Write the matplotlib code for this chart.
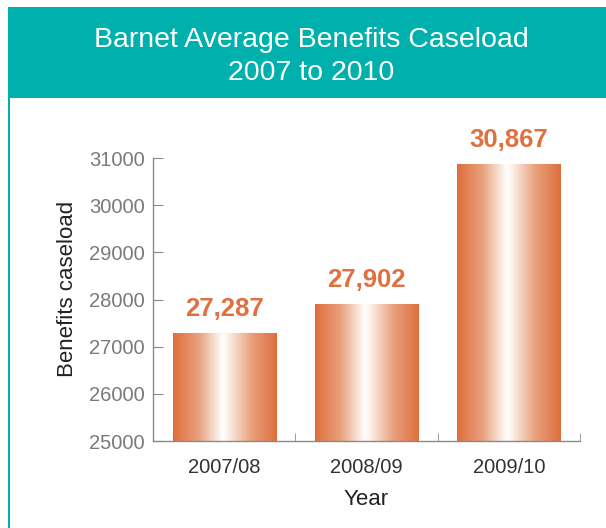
import numpy as np
import matplotlib
matplotlib.use("Agg")
import matplotlib.pyplot as plt
from matplotlib.patches import Rectangle
from matplotlib.colors import LinearSegmentedColormap

categories = ["2007/08", "2008/09", "2009/10"]
values = [27287, 27902, 30867]
value_labels = ["27,287", "27,902", "30,867"]
yticks = [25000, 26000, 27000, 28000, 29000, 30000, 31000]
title_lines = ["Barnet Average Benefits Caseload", "2007 to 2010"]

plt.rcParams['font.family'] = ['Liberation Sans', 'DejaVu Sans']

TEAL = "#00B0AC"
ORANGE = "#E0703F"

fig = plt.figure(figsize=(6.06, 5.28), dpi=100)
W, H = 606, 528

# header band
fig.add_artist(Rectangle((8 / W, 1 - 98 / H), 1 - 8 / W, 91 / H,
                         transform=fig.transFigure, facecolor=TEAL, edgecolor='none'))
# left border line
fig.add_artist(Rectangle((8 / W, 0), 2 / W, 1 - 98 / H,
                         transform=fig.transFigure, facecolor=TEAL, edgecolor='none'))
for yy, line in zip([40, 73], title_lines):
    fig.text(311 / W, 1 - yy / H, line, ha='center', va='center',
             color='white', fontsize=20.5)

ax = fig.add_axes([153 / W, 1 - 441 / H, (580 - 153) / W, (441 - 158) / H])

cmap = LinearSegmentedColormap.from_list(
    "grad", [(0.0, "#DF6E3C"), (0.25, "#E9A27E"), (0.48, "#FFFFFF"),
             (0.52, "#FDF4EE"), (0.75, "#E9A27E"), (1.0, "#DF6E3C")])
grad = np.linspace(0, 1, 256).reshape(1, -1)

bw = 0.725
x = np.arange(len(categories))
bars = ax.bar(x, np.array(values) - 25000, bottom=25000, width=bw,
              color='none', edgecolor='none')
for b, v, lab in zip(bars, values, value_labels):
    x0 = b.get_x()
    im = ax.imshow(grad, extent=[x0, x0 + bw, 25000, v], aspect='auto',
                   cmap=cmap, zorder=2, interpolation='bicubic')
    im.set_clip_path(b)
    ax.annotate(lab, (b.get_x() + bw / 2, v), xytext=(0, 17.5), textcoords='offset points',
                ha='center', va='center', color=ORANGE, fontsize=18.5, fontweight='bold')

ax.set_xlim(-0.5, 2.5)
ax.set_ylim(25000, 31000)

for s in ['top', 'right']:
    ax.spines[s].set_visible(False)
for s in ['left', 'bottom']:
    ax.spines[s].set_color('#8a8a8a')
    ax.spines[s].set_linewidth(1.0)

ax.set_yticks(yticks)
ax.set_yticklabels([str(t) for t in yticks])
ax.tick_params(axis='y', direction='in', length=7, color='#8a8a8a',
               labelcolor='#7a7a7a', labelsize=14.5, pad=6)
ax.set_xticks(x)
ax.set_xticklabels(categories)
ax.tick_params(axis='x', which='major', length=0, labelcolor='#333333',
               labelsize=14.5, pad=12)
ax.set_xticks([0.5, 1.5, 2.5], minor=True)
ax.tick_params(axis='x', which='minor', direction='in', length=6, color='#8a8a8a')

ax.set_ylabel("Benefits caseload", fontsize=16, color='#222222')
ax.yaxis.set_label_coords(-0.176, 0.537)
ax.set_xlabel("Year", fontsize=16, color='#222222', labelpad=9)

fig.savefig("out.png", dpi=100)
